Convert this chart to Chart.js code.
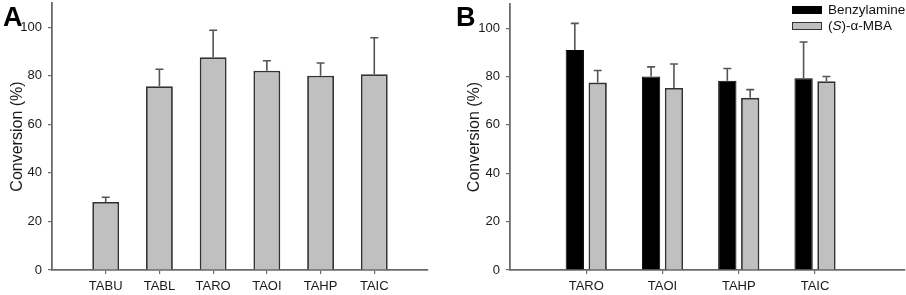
<!DOCTYPE html>
<html>
<head>
<meta charset="utf-8">
<script src="https://cdn.jsdelivr.net/npm/chart.js@4.4.0/dist/chart.umd.min.js"></script>
<style>
    body { margin: 0; background: #fff; font-family: "Liberation Sans", Arial, sans-serif; }
    #wrap { position: relative; width: 906px; height: 295px; overflow: hidden; }
    canvas { position: absolute; top: 0; }
    .panel { position: absolute; font-weight: bold; font-size: 27px; line-height: 27px; color: #000; }
    .leg { position: absolute; font-size: 13.5px; line-height: 14px; color: #111; white-space: nowrap; }
    .sw { position: absolute; width: 30px; height: 8px; box-sizing: border-box; }
</style>
</head>
<body>
<div id="wrap">
    <canvas id="chart-a" width="453" height="295" style="left:0"></canvas>
    <canvas id="chart-b" width="453" height="295" style="left:453px"></canvas>
    <div class="panel" style="left:3px; top:4px">A</div>
    <div class="panel" style="left:456px; top:4px">B</div>
    <div class="sw" style="left:792px; top:6px; background:#000"></div>
    <div class="leg" style="left:828px; top:3px">Benzylamine</div>
    <div class="sw" style="left:792px; top:22px; background:#c0c0c0; border:1px solid #333"></div>
    <div class="leg" style="left:828px; top:19px">(<i>S</i>)-α-MBA</div>
</div>
<script>
// Datos
const catsA = ['TABU', 'TABL', 'TARO', 'TAOI', 'TAHP', 'TAIC'];
const convA = [28.0, 75.7, 87.6, 82.1, 80.0, 80.6];
const errA = [2.0, 7.0, 11.2, 4.1, 5.3, 15.1];

const catsB = ['TARO', 'TAOI', 'TAHP', 'TAIC'];
const benzB = [91.0, 80.0, 78.3, 79.3];
const benzErrB = [11.0, 4.0, 5.0, 15.0];
const mbaB = [77.5, 75.3, 71.2, 78.1];
const mbaErrB = [5.0, 9.9, 3.4, 1.9];

const yTicks = [0, 20, 40, 60, 80, 100];

const FONT = '"Liberation Sans", Arial, sans-serif';
const AXIS = '#6a6a6a';

// Barras de error solo hacia arriba, con tope
const errorBars = {
    id: 'errorBars',
    afterDatasetsDraw(chart) {
        const ctx = chart.ctx;
        const y = chart.scales.y;
        chart.data.datasets.forEach((ds, di) => {
            const meta = chart.getDatasetMeta(di);
            meta.data.forEach((bar, i) => {
                const top = y.getPixelForValue(ds.data[i].y + ds.errors[i]);
                ctx.save();
                ctx.strokeStyle = '#555';
                ctx.lineWidth = 1.6;
                ctx.beginPath();
                ctx.moveTo(bar.x, bar.y);
                ctx.lineTo(bar.x, top);
                ctx.moveTo(bar.x - 4, top);
                ctx.lineTo(bar.x + 4, top);
                ctx.stroke();
                ctx.restore();
            });
        });
    }
};

function toPoints(values) {
    return values.map((v, i) => ({ x: i + 1, y: v }));
}

function makeOptions(cats, xMax, axisW, pad, titlePad) {
    return {
        responsive: false,
        animation: false,
        layout: { padding: pad },
        plugins: { legend: { display: false }, tooltip: { enabled: false } },
        scales: {
            x: {
                type: 'linear',
                min: 0,
                max: xMax,
                offset: false,
                afterBuildTicks: s => { s.ticks = cats.map((c, i) => ({ value: i + 1 })); },
                afterFit: s => { s.height = 25; s.paddingLeft = 0; s.paddingRight = 0; },
                border: { color: AXIS, width: 1.8 },
                grid: { drawOnChartArea: false, tickLength: 4, color: AXIS, lineWidth: 1.2, offset: false },
                ticks: {
                    color: '#1a1a1a',
                    font: { family: FONT, size: 13 },
                    padding: 5,
                    autoSkip: false,
                    maxRotation: 0,
                    callback: v => cats[v - 1] || ''
                }
            },
            y: {
                min: 0,
                max: 110,
                afterBuildTicks: s => { s.ticks = yTicks.map(v => ({ value: v })); },
                afterFit: s => { s.width = axisW; s.paddingTop = 0; s.paddingBottom = 0; },
                border: { color: AXIS, width: 1.8 },
                grid: { drawOnChartArea: false, tickLength: 4, color: AXIS, lineWidth: 1.2 },
                ticks: { color: '#1a1a1a', font: { family: FONT, size: 13 }, padding: 6 },
                title: {
                    display: true,
                    text: 'Conversion (%)',
                    color: '#1a1a1a',
                    font: { family: FONT, size: 16 },
                    padding: { top: titlePad, bottom: 0 }
                }
            }
        }
    };
}

function initPanelA() {
    const ctx = document.getElementById('chart-a');
    new Chart(ctx, {
        type: 'bar',
        data: {
            datasets: [{
                data: toPoints(convA),
                errors: errA,
                backgroundColor: '#c0c0c0',
                borderColor: '#333',
                borderWidth: 1.8,
                categoryPercentage: 1,
                barPercentage: 0.5
            }]
        },
        options: makeOptions(catsA, 7, 52, { left: 0, right: 25, top: 3, bottom: 0 }, 8),
        plugins: [errorBars]
    });
}

function initPanelB() {
    const ctx = document.getElementById('chart-b');
    new Chart(ctx, {
        type: 'bar',
        data: {
            datasets: [{
                label: 'Benzylamine',
                data: toPoints(benzB),
                errors: benzErrB,
                backgroundColor: '#000',
                borderColor: '#000',
                borderWidth: 1,
                categoryPercentage: 0.6,
                barPercentage: 0.8
            }, {
                label: '(S)-α-MBA',
                data: toPoints(mbaB),
                errors: mbaErrB,
                backgroundColor: '#c0c0c0',
                borderColor: '#333',
                borderWidth: 1.8,
                categoryPercentage: 0.6,
                barPercentage: 0.8
            }]
        },
        options: makeOptions(catsB, 5.18, 57, { left: 0, right: 1, top: 4, bottom: 0 }, 12),
        plugins: [errorBars]
    });
}

initPanelA();
initPanelB();
</script>
</body>
</html>
